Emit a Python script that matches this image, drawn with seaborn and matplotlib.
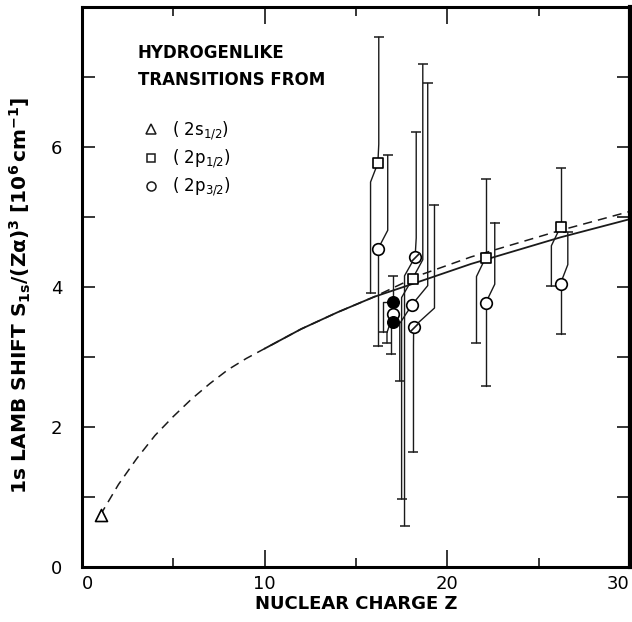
import matplotlib
matplotlib.use('Agg')
import matplotlib.pyplot as plt
from matplotlib.lines import Line2D
from matplotlib.ticker import MultipleLocator
import seaborn as sns

# theory curves
Z_dash = [1, 2, 3, 4, 5, 6, 7, 8, 9, 10, 12, 14, 16, 18.5, 21.3, 26.2, 30]
S_dash = [0.74, 1.18, 1.55, 1.88, 2.15, 2.40, 2.62, 2.82, 2.98, 3.12, 3.40, 3.64,
          3.86, 4.17, 4.43, 4.81, 5.08]
Z_solid = [10, 12, 14, 16, 18.5, 21.3, 26.2, 30]
S_solid = [3.12, 3.40, 3.64, 3.86, 4.08, 4.33, 4.71, 4.97]

# (2s1/2)
Z_2s = [1.05]
S_2s = [0.74]

# (2p1/2): value, bar ends and the Z where each half of the bar is drawn
Z_2p1 = [16.2, 18.1, 22.1, 26.2]
S_2p1 = [5.77, 4.12, 4.42, 4.86]
up_2p1 = [7.57, 7.18, 5.55, 5.70]
lo_2p1 = [3.91, 0.97, 3.20, 4.01]
Zup_2p1 = [16.25, 18.66, 22.1, 26.2]
Zlo_2p1 = [15.8, 17.5, 21.6, 25.7]

# (2p3/2)
Z_2p3 = [16.2, 18.08, 22.1, 26.2, 17.05]
S_2p3 = [4.54, 3.75, 3.77, 4.05, 3.62]
up_2p3 = [5.88, 6.91, 4.92, 4.78, 3.62]
lo_2p3 = [3.16, 2.66, 2.59, 3.33, 3.20]
Zup_2p3 = [16.74, 18.93, 22.6, 26.6, 17.05]
Zlo_2p3 = [16.2, 17.4, 22.1, 26.2, 16.7]

# slashed circles
Z_sl = [18.24, 18.16]
S_sl = [4.43, 3.43]
up_sl = [6.21, 5.17]
lo_sl = [0.59, 1.64]
Zup_sl = [18.3, 19.3]
Zlo_sl = [17.66, 18.15]

# filled circles
Z_fc = [17.05, 17.05]
S_fc = [3.78, 3.50]
up_fc = [4.16, 3.50]
lo_fc = [3.36, 3.04]
Zup_fc = [17.05, 17.05]
Zlo_fc = [16.47, 16.9]

sns.set_theme(style="ticks")
plt.rcParams['font.family'] = ['DejaVu Sans']
plt.rcParams['text.color'] = 'black'
plt.rcParams['axes.labelcolor'] = 'black'
plt.rcParams['mathtext.default'] = 'regular'

fig = plt.figure(figsize=(6.32, 6.22), dpi=100)
ax = fig.add_axes([0.1297, 0.0884, 0.867, 0.9003])


def draw_bar(z, s, end, zbar, dy=0.27):
    if end == s:
        return
    sign = 1 if end > s else -1
    if zbar == z:
        xs, ys = [z, z], [s, end]
    else:
        xs, ys = [z, zbar, zbar], [s, s + sign * dy, end]
    ax.plot(xs, ys, color='k', lw=1.0, zorder=3)
    ax.plot([zbar], [end], marker='_', ms=7, mew=1.1, color='k', zorder=3)


for Z, S, up, lo, zu, zl, dy in [
        (Z_2p1, S_2p1, up_2p1, lo_2p1, Zup_2p1, Zlo_2p1, 0.27),
        (Z_2p3, S_2p3, up_2p3, lo_2p3, Zup_2p3, Zlo_2p3, 0.27),
        (Z_sl, S_sl, up_sl, lo_sl, Zup_sl, Zlo_sl, 0.27),
        (Z_fc, S_fc, up_fc, lo_fc, Zup_fc, Zlo_fc, 0.0)]:
    for i in range(len(Z)):
        draw_bar(Z[i], S[i], up[i], zu[i], dy)
        draw_bar(Z[i], S[i], lo[i], zl[i], dy)

# theory curves
sns.lineplot(x=Z_dash, y=S_dash, ax=ax, color='k', lw=1.1, linestyle=(0, (6, 4)), zorder=2)
sns.lineplot(x=Z_solid, y=S_solid, ax=ax, color='k', lw=1.3, zorder=2)

# markers
mk = dict(color='white', edgecolor='black', linewidth=1.2, zorder=5, ax=ax, legend=False)
sns.scatterplot(x=Z_2s, y=S_2s, marker='^', s=75, **mk)
sns.scatterplot(x=Z_2p1, y=S_2p1, marker='s', s=45, **mk)
sns.scatterplot(x=Z_2p3, y=S_2p3, marker='o', s=70, **mk)
sns.scatterplot(x=Z_sl, y=S_sl, marker='o', s=70, **mk)
ax.scatter(Z_sl, S_sl, marker=[(-1, -1), (1, 1)], s=45, color='k', linewidth=1.2, zorder=6)
sns.scatterplot(x=Z_fc, y=S_fc, marker='o', s=70, color='black', edgecolor='black',
                linewidth=1.0, zorder=6, ax=ax, legend=False)

ax.set_xlim(0, 30)
ax.set_ylim(0, 8)
ax.set_xticks([0, 10, 20, 30])
ax.xaxis.set_minor_locator(MultipleLocator(5))
ax.set_yticks([0, 2, 4, 6])
ax.yaxis.set_minor_locator(MultipleLocator(1))

ax.tick_params(axis='both', which='both', direction='in', top=True, right=True,
               colors='black', labelsize=13, width=1.1)
ax.tick_params(axis='x', which='major', length=12, pad=6)
ax.tick_params(axis='x', which='minor', length=6.5)
ax.tick_params(axis='y', which='both', length=9.5, pad=14)
xt = ax.get_xticklabels()
xt[0].set_ha('left')
xt[-1].set_ha('right')
for side in ['left', 'bottom', 'top']:
    ax.spines[side].set_linewidth(2.2)
    ax.spines[side].set_color('black')
ax.spines['right'].set_linewidth(3.0)
ax.spines['right'].set_color('black')

ax.set_xlabel('NUCLEAR CHARGE Z', fontsize=13, fontweight='bold')
ax.xaxis.set_label_coords(0.5, -0.05)
ax.set_ylabel(r'1s LAMB SHIFT $\mathbf{S_{1s}/(Z\alpha)^3\ [10^6\,cm^{-1}]}$',
              fontsize=14.5, fontweight='bold')
ax.yaxis.set_label_coords(-0.09, 0.485)

ax.text(0.102, 0.894, 'HYDROGENLIKE\nTRANSITIONS FROM', transform=ax.transAxes,
        fontsize=12, fontweight='bold', va='center', ha='left', linespacing=1.65)

handles = [Line2D([], [], marker='^', ls='none', ms=6.5, mfc='white', mec='k', mew=1.1),
           Line2D([], [], marker='s', ls='none', ms=6, mfc='white', mec='k', mew=1.1),
           Line2D([], [], marker='o', ls='none', ms=6.5, mfc='white', mec='k', mew=1.1)]
labels = [r'( 2s$_{1/2}$)', r'( 2p$_{1/2}$)', r'( 2p$_{3/2}$)']
ax.legend(handles, labels, loc='upper left', bbox_to_anchor=(0.11, 0.80), frameon=False,
          fontsize=12, handlelength=1.0, handletextpad=0.8, labelspacing=0.35,
          borderpad=0, borderaxespad=0)

fig.savefig('out.png', dpi=100, facecolor='white')
